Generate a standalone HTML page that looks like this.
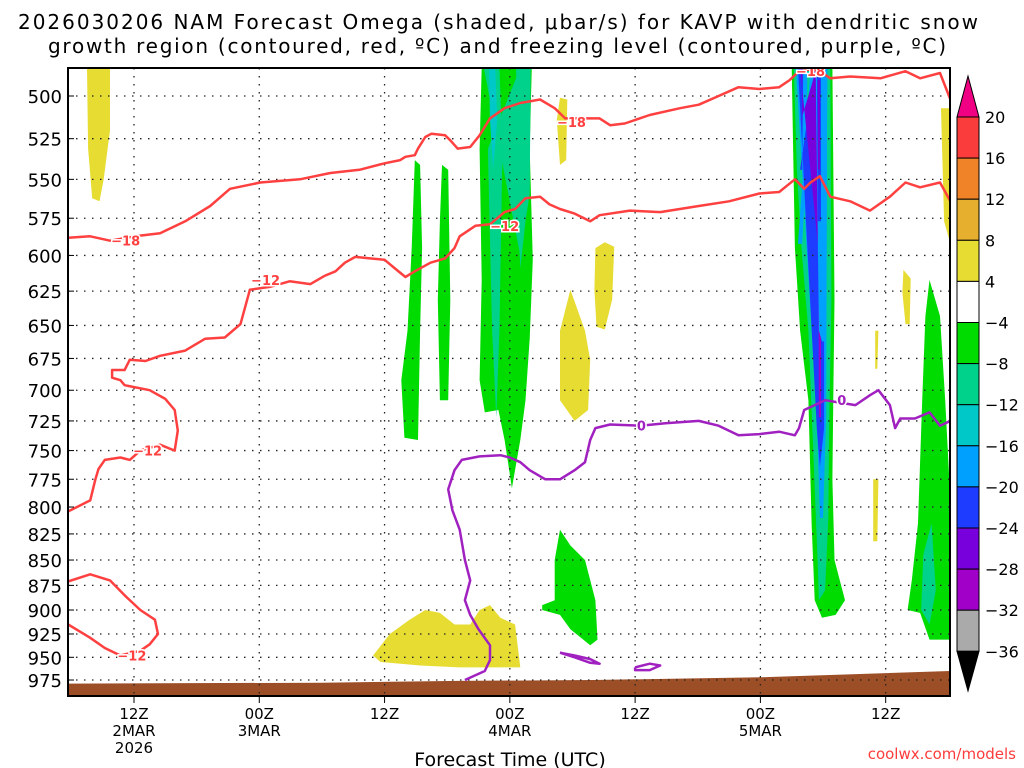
<!DOCTYPE html>
<html><head><meta charset="utf-8"><style>
html,body{margin:0;padding:0;background:#fff;}
svg{display:block;font-family:"DejaVu Sans","Liberation Sans",sans-serif;}
</style></head><body>
<svg id="chart" width="1024" height="768" viewBox="0 0 1024 768">
<text x="498" y="29" text-anchor="middle" font-size="20" textLength="960">2026030206 NAM Forecast Omega (shaded, μbar/s) for KAVP with dendritic snow</text>
<text x="497" y="53" text-anchor="middle" font-size="20" textLength="898">growth region (contoured, red, ºC) and freezing level (contoured, purple, ºC)</text>
<g id="shade"></g>
<g id="terrain"></g>
<g id="grid"></g>
<g id="contours"></g>
<g id="axes"></g>
<g id="cbar"></g>
<text x="510" y="766" text-anchor="middle" font-size="19">Forecast Time (UTC)</text>
<text x="1016" y="759" text-anchor="end" font-size="15" fill="#ff3c3c">coolwx.com/models</text>
</svg>
<script>
// ---- data ----
const pressureTicks=[500,525,550,575,600,625,650,675,700,725,750,775,800,825,850,875,900,925,950,975];
const timeTicks=[12,24,36,48,60,72,84];
const timeLabels=[["12Z","2MAR","2026"],["00Z","3MAR"],["12Z"],["00Z","4MAR"],["12Z"],["00Z","5MAR"],["12Z"]];
const cbarLevels=["20","16","12","8","4","−4","−8","−12","−16","−20","−24","−28","−32","−36"];
const cbarColors=["#fa3c3c","#f08228","#e6af2d","#e6dc32","#ffffff","#00dc00","#00d28c","#00c8c8","#00a0ff","#1e3cff","#7800dc","#a000c8","#aaaaaa"];
const c18H=[5.7,7.8,9.7,12.1,14.5,16.9,19.3,21.2,24.1,27.9,30.8,33.6,36.0,37.5,38.0,38.9,39.2,39.9,40.5,41.8,42.3,43.0,44.2,45.1,46.1,47.5,49.0,50.9,52.3,53.3,54.7,56.6,57.6,59.0,61.4,64.3,66.1,68.0,69.9,71.9,73.8,74.8,75.7,76.8,77.7,78.7,80.6,83.5,85.9,87.3,89.2,90.2];
const c18P=[588,587,590,587,585,577,567,556,552,550,546,544,540,538,536,535,531,524,522,523,526,531,530,523,513,507,504,502,507,513,513,513,517,516,511,507,505,500,495,496,495,491,486,485,486,490,489,490,486,490,487,502];
const c12H=[5.7,7.8,8.3,8.6,9.2,10.7,11.6,12.6,14.5,15.9,16.2,15.9,15.0,13.5,11.1,10.7,9.9,9.9,11.1,11.6,13.1,14.5,16.9,18.8,20.7,22.2,23.1,25.0,26.9,28.9,30.3,31.3,32.2,33.2,34.6,36.0,37.0,38.0,38.9,40.4,41.8,42.7,43.2,44.7,46.1,47.5,48.5,49.5,50.9,51.8,52.8,54.2,55.7,56.6,59.5,62.4,66.1,69.0,71.9,73.8,75.3,76.2,76.8,77.7,78.7,80.6,82.5,84.4,85.9,87.3,89.2,90.2];
const c12P=[804,794,775,766,758,756,758,750,745,750,733,716,707,700,696,692,690,684,684,676,677,673,669,660,659,649,624,622,618,620,614,611,605,601,602,603,609,615,611,605,602,595,587,580,579,571,569,562,561,566,569,572,577,573,570,571,567,564,559,558,550,556,552,548,561,564,570,561,552,555,552,564];
const c12bH=[5.7,7.8,9.7,11.1,12.6,14.0,14.3,13.5,12.6,10.7,9.2,7.8,5.7];
const c12bP=[871,864,870,885,900,910,925,936,943,948,940,929,915];
const c0H=[43.7,45.6,46.1,46.1,45.0,44.2,43.7,44.2,43.7,43.2,42.5,42.1,42.7,43.4,45.1,47.1,48.0,49.0,49.9,51.4,52.8,54.2,55.2,55.7,56.2,57.6,60.5,62.9,66.1,68.0,69.9,71.9,73.8,75.3,75.7,76.2,77.2,78.2,79.6,81.1,82.5,83.3,84.4,84.9,85.4,86.8,88.2,89.2,90.2];
const c0P=[975,965,953,937,920,905,890,870,850,821,803,784,767,758,755,754,756,760,767,775,775,767,760,741,731,728,729,727,725,729,737,736,734,737,731,716,712,708,710,712,704,700,712,731,723,723,718,729,725];
const blobAH=[52.8,54.2,55.7,56.6,55.7,54.2,52.8];
const blobAP=[945,948,952,957,956,950,945];
const blobBH=[60.0,61.4,62.4,61.4,60.0,60.0];
const blobBP=[961,957,959,964,964,961];
const terrainH=[5.7,30,43,56,72,90.2];
const terrainP=[979,978,976,975,972,965];
// shaded areas: each color index into cbarColors with hour / pressure outlines
const shadeColor=[3,3,3,3,3,3,3,3,3, 5,5,5,6,7,6, 5, 5,6,8,9,10,11,12,6,8,9,10, 5,6];
const shadeH=[
[7.5,9.7,9.7,9.1,8.7,8.0,7.6],
[52.8,53.5,53.4,52.8,52.5],
[56.2,57.1,58.0,57.8,57.1,56.3,56.1],
[53.8,55.2,55.7,55.5,54.2,52.8,52.8],
[34.9,36.5,38.4,39.9,41.3,42.7,44.2,45.1,46.1,47.1,48.5,49.0,46.1,43.2,39.4,35.6],
[85.7,86.4,86.3,85.9,85.6],
[83.0,83.3,83.2,83.0],
[82.8,83.3,83.2,82.8],
[89.3,90.2,90.2,89.6],
[38.9,39.4,39.6,39.4,39.2,37.9,37.6,38.2,38.6],
[41.5,42.1,42.3,42.1,41.3,41.1,41.3],
[45.3,50.1,49.9,50.2,49.9,49.5,49.0,48.2,47.5,46.9,45.6,45.1,45.3,45.1],
[45.5,47.0,47.3,47.0,46.7,46.3,45.9,49.0,50.0,49.9,49.0],
[46.0,46.6,46.8,46.4,46.1],
[48.6,49.6,49.5,49.0,48.8],
[52.8,53.8,55.2,56.2,56.4,55.7,53.8,52.8,51.1,51.1,52.3,52.3],
[75.0,78.9,79.1,79.0,78.9,79.1,80.1,79.2,77.9,77.2,76.9,76.6,75.8,75.3],
[75.2,78.7,78.8,78.6,78.5,78.2,77.6,77.5,77.1,76.6,75.9,75.5],
[75.4,76.5,76.4,76.0,75.6, 76.8,78.4,78.3,78.0,77.7,77.4],
[75.6,76.1,76.0,75.8, 77.2,78.1,78.1,77.7,77.4],
[75.8,76.0,76.0,75.9, 77.4,77.8,77.8,77.5],
[77.5,77.8,77.8,77.6],
[77.6,77.7,77.7,77.6],
[87.6,88.4,88.6,88.0,87.5],
[77.3,78.4,78.3,77.9,77.6],
[77.4,77.8,77.8,77.5],
[77.5,77.7,77.7,77.5],
[88.2,89.2,89.7,90.2,90.2,88.2,87.3,86.1,86.5,87.1,87.5,87.8],
[87.6,88.4,88.8,88.2,87.4]];
const shadeP=[
[484,484,520,550,564,562,531],
[501,502,538,541,514],
[595,591,594,631,653,651,624],
[624,654,676,716,725,708,654],
[948,925,910,900,903,915,915,900,895,908,915,961,961,961,959,955],
[610,616,649,649,626],
[654,654,683,683],
[775,775,832,832],
[507,507,592,577],
[538,541,595,654,741,739,692,654,595],
[541,544,631,708,708,631,577],
[484,484,531,603,660,708,741,783,741,716,718,692,617,531],
[484,484,531,654,722,654,531,484,484,559,600],
[484,484,514,544,514],
[484,484,577,609,577],
[821,836,850,890,931,937,920,905,900,895,890,850],
[484,484,631,692,775,850,890,905,908,890,815,708,654,595],
[484,484,631,722,810,880,890,855,758,654,592,544],
[484,484,544,592,592,484,484,722,810,810,722],
[484,484,544,544,484,484,731,764,731],
[484,484,514,514,484,484,592,592],
[484,484,722,722],
[491,491,552,552],
[855,832,880,900,897],
[484,484,662,662,654],
[484,484,577,577],
[491,491,544,544],
[617,643,708,794,931,931,903,900,870,815,708,643],
[845,815,880,915,900]];
const labH=[11.2,53.9,76.8,24.6,47.5,13.3,11.8,60.6,79.8];
const labP=[590,515,486,617,580,750,948,729,708];
const labT=["−18","−18","−18","−12","−12","−12","−12","0","0"];
const labC=["#ff4040","#ff4040","#ff4040","#ff4040","#ff4040","#ff4040","#ff4040","#a020c0","#a020c0"];
// ---- helpers ----
const NS="http://www.w3.org/2000/svg";
const X=h=>134+(h-12)*10.44;
const Y=p=>96+874.5*Math.log(p/500);
function mk(tag,parent){const e=document.createElementNS(NS,tag);document.getElementById(parent).appendChild(e);return e;}
const pts=(H,P)=>H.map((h,i)=>X(h).toFixed(1)+","+Y(P[i]).toFixed(1)).join(" ");
const defs=mk("defs","chart");
defs.innerHTML='<clipPath id="plotclip"><rect x="68" y="68" width="882" height="628"/></clipPath>';
["shade","terrain","contours"].forEach(id=>document.getElementById(id).setAttribute("clip-path","url(#plotclip)"));
// shading
shadeH.forEach((H,i)=>{
  const poly=mk("polygon","shade");
  
  
  poly.setAttribute("points",pts(H,shadeP[i]));
  poly.setAttribute("fill",cbarColors[shadeColor[i]]);
});
// terrain
{
  const t=mk("polygon","terrain");
  
  
  t.setAttribute("points",pts(terrainH,terrainP)+" 950,700 68,700");
  t.setAttribute("fill","#9c4e27");
}
// grid
pressureTicks.forEach(p=>{
  const l=mk("line","grid");
  
  
  l.setAttribute("x1",68);l.setAttribute("x2",950);l.setAttribute("y1",Y(p));l.setAttribute("y2",Y(p));
  l.setAttribute("stroke","#222");l.setAttribute("stroke-width","1.3");l.setAttribute("stroke-dasharray","1.5 6.5");
});
timeTicks.forEach(h=>{
  const l=mk("line","grid");
  
  
  l.setAttribute("x1",X(h));l.setAttribute("x2",X(h));l.setAttribute("y1",68);l.setAttribute("y2",696);
  l.setAttribute("stroke","#222");l.setAttribute("stroke-width","1.3");l.setAttribute("stroke-dasharray","1.5 6.5");
});
// contours
function line(H,P,color,name){
  const l=mk("polyline","contours");
  
  
  l.setAttribute("points",pts(H,P));
  l.setAttribute("fill","none");l.setAttribute("stroke",color);l.setAttribute("stroke-width","2.5");l.setAttribute("stroke-linejoin","round");
}
line(c18H,c18P,"#ff4040","contour-minus18");
line(c12H,c12P,"#ff4040","contour-minus12");
line(c12bH,c12bP,"#ff4040","contour-minus12-low");
line(c0H,c0P,"#a020c0","contour-freezing");
line(blobAH,blobAP,"#a020c0","contour-freezing-blob");
line(blobBH,blobBP,"#a020c0","contour-freezing-blob");
labT.forEach((t,i)=>{
  const tx=mk("text","contours");
  
  
  tx.setAttribute("x",X(labH[i]));tx.setAttribute("y",Y(labP[i])+5);
  tx.setAttribute("text-anchor","middle");tx.setAttribute("font-size","13");tx.setAttribute("font-weight","bold");
  tx.setAttribute("fill",labC[i]);tx.setAttribute("stroke","#fff");tx.setAttribute("stroke-width","3");tx.setAttribute("paint-order","stroke");
  tx.textContent=t;
});
// axes
{
  const r=mk("rect","axes");
  
  
  r.setAttribute("x",68);r.setAttribute("y",68);r.setAttribute("width",882);r.setAttribute("height",628);
  r.setAttribute("fill","none");r.setAttribute("stroke","#000");r.setAttribute("stroke-width","2");
}
pressureTicks.forEach(p=>{
  const t=mk("text","axes");
  
  
  t.setAttribute("x",62);t.setAttribute("y",Y(p)+7);t.setAttribute("text-anchor","end");t.setAttribute("font-size","18");
  t.textContent=p;
  const k=mk("line","axes");
  
  
  k.setAttribute("x1",68);k.setAttribute("x2",74);k.setAttribute("y1",Y(p));k.setAttribute("y2",Y(p));k.setAttribute("stroke","#000");
});
timeTicks.forEach((h,i)=>{
  timeLabels[i].forEach((s,j)=>{
    const t=mk("text","axes");
    
    
    t.setAttribute("x",X(h));t.setAttribute("y",719+j*17);t.setAttribute("text-anchor","middle");t.setAttribute("font-size","15");
    t.textContent=s;
  });
  const k=mk("line","axes");
  
  
  k.setAttribute("x1",X(h));k.setAttribute("x2",X(h));k.setAttribute("y1",696);k.setAttribute("y2",703);k.setAttribute("stroke","#000");
});
// colorbar
{
  const top=117, seg=41.1, x0=957, w=22;
  const tri=mk("polygon","cbar");
  
  
  tri.setAttribute("points",`${x0},${top} ${x0+w},${top} ${x0+w/2},76`);
  tri.setAttribute("fill","#f00082");tri.setAttribute("stroke","#000");
  cbarColors.forEach((c,i)=>{
    const r=mk("rect","cbar");
    
    
    r.setAttribute("x",x0);r.setAttribute("y",top+i*seg);r.setAttribute("width",w);r.setAttribute("height",seg);
    r.setAttribute("fill",c);r.setAttribute("stroke","#000");
  });
  const b=top+cbarColors.length*seg;
  const tri2=mk("polygon","cbar");
  
  
  tri2.setAttribute("points",`${x0},${b} ${x0+w},${b} ${x0+w/2},691`);
  tri2.setAttribute("fill","#000");tri2.setAttribute("stroke","#000");
  cbarLevels.forEach((s,i)=>{
    const t=mk("text","cbar");
    
    
    t.setAttribute("x",985);t.setAttribute("y",top+i*seg+6);t.setAttribute("font-size","16");
    t.textContent=s;
  });
}
</script>
</body></html>
